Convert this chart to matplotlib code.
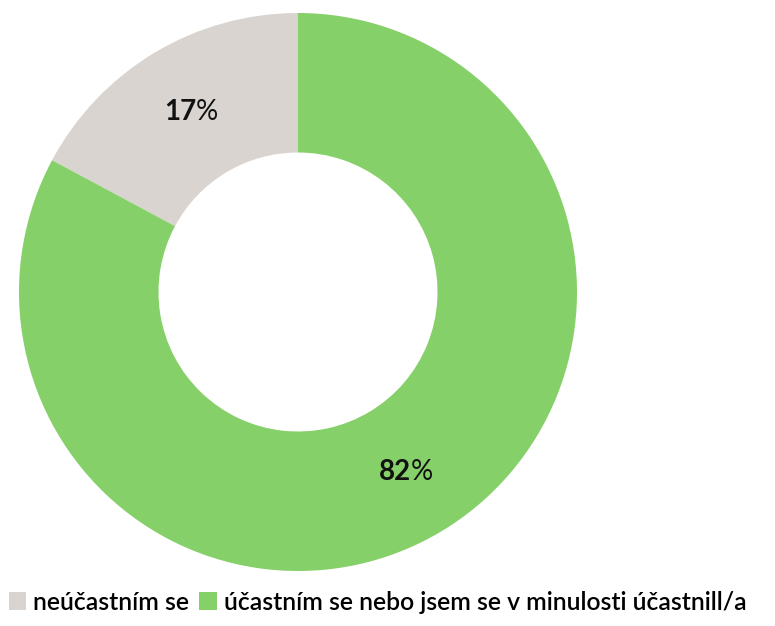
import matplotlib.pyplot as plt
import numpy as np
from matplotlib.patches import Patch

# data
labels = ['neúčastním se', 'účastním se nebo jsem se v minulosti účastnill/a']
values = [17, 82]
colors = ['#d9d4cf', '#86d069']

plt.rcParams['font.family'] = ['Lato', 'DejaVu Sans']

fig = plt.figure(figsize=(7.75, 6.26), dpi=100)
ax = fig.add_axes([19 / 775, 55 / 626, 558 / 775, 558 / 626])

wedges, _ = ax.pie(values, colors=colors, startangle=90, counterclock=True,
                   radius=1, wedgeprops=dict(width=0.5, edgecolor='none'))
ax.set_xlim(-1, 1)
ax.set_ylim(-1, 1)
ax.set_aspect('equal')
ax.axis('off')

for w, v in zip(wedges, values):
    mid = np.deg2rad((w.theta1 + w.theta2) / 2)
    x, y = 0.75 * np.cos(mid), 0.75 * np.sin(mid)
    ax.text(x + 0.02, y, str(v), ha='right', va='center', fontsize=20,
            fontweight='bold', color='#111111')
    ax.text(x + 0.02, y, '%', ha='left', va='center', fontsize=20,
            fontweight='normal', color='#111111')

handles = [Patch(facecolor=c, edgecolor='none') for c in colors]
fig.legend(handles, labels, loc='lower left', bbox_to_anchor=(-0.008, -0.004),
           ncol=2, frameon=False, handlelength=0.7,
           handleheight=0.7, handletextpad=0.3, columnspacing=0.4,
           borderaxespad=0.2, prop=dict(size=17.8, weight='semibold'))

fig.savefig('out.png', dpi=100)
